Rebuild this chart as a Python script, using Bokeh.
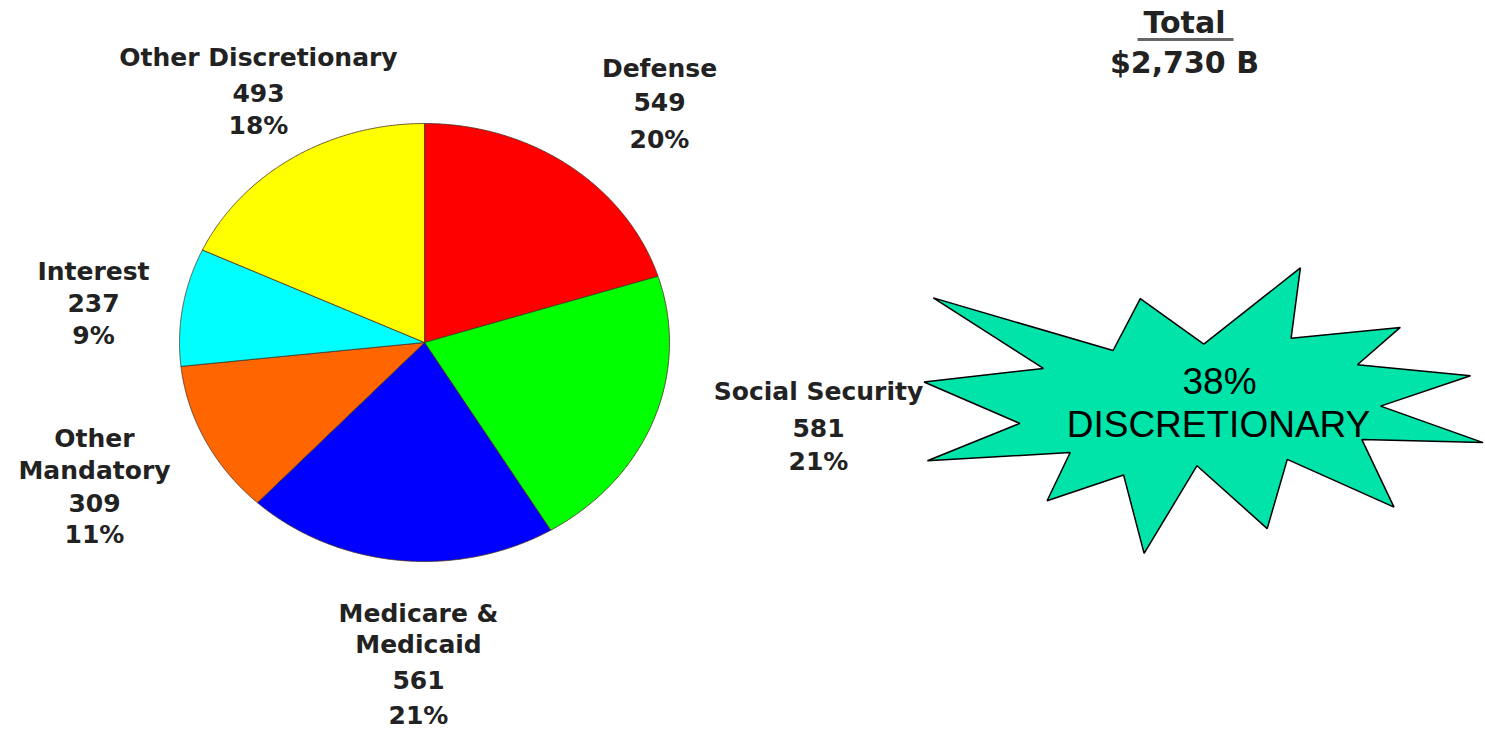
import numpy as np
from bokeh.plotting import figure
from bokeh.models import Range1d
from bokeh.core.properties import value
from bokeh.embed import file_html
from bokeh.resources import INLINE

# ---- data ----
categories = ["Defense", "Social Security", "Medicare & Medicaid",
              "Other Mandatory", "Interest", "Other Discretionary"]
amounts = [549, 581, 561, 309, 237, 493]
percents = ["20%", "21%", "21%", "11%", "9%", "18%"]
colors = ["#FF0000", "#00FF00", "#0000FF", "#FF6600", "#00FFFF", "#FFFF00"]
total_label = "$2,730 B"
burst_lines = ["38%", "DISCRETIONARY"]

# ---- layout ----
W, H = 1485, 731
p = figure(width=W, height=H, output_backend="svg", toolbar_location=None,
           x_range=Range1d(0, W), y_range=Range1d(H, 0),
           min_border=0, x_axis_location=None, y_axis_location=None,
           background_fill_color="white", border_fill_color="white")
p.outline_line_color = None
p.grid.visible = False

# pie (ellipse-shaped, clockwise from 12 o'clock)
cx, cy, rx, ry = 424, 342, 245, 219
tot = float(sum(amounts))
cum = np.concatenate([[0.0], np.cumsum(amounts)]) / tot * 2 * np.pi
xs, ys = [], []
for i in range(len(amounts)):
    th = np.linspace(cum[i], cum[i + 1], 200)
    xs.append(np.concatenate([[cx], cx + rx * np.sin(th)]).tolist())
    ys.append(np.concatenate([[cy], cy - ry * np.cos(th)]).tolist())
p.patches(xs=xs, ys=ys, fill_color=colors, line_color="#4a3020",
          line_alpha=0.8, line_width=1)

# slice labels (positions are layout only)
label_pos = {
    "Defense": (659, [68, 101, 139]),
    "Social Security": (818, [391, 427, 461]),
    "Medicare & Medicaid": (418, [613, 644, 679, 715]),
    "Other Mandatory": (94, [438, 470, 502, 534]),
    "Interest": (93, [271, 302, 335]),
    "Other Discretionary": (258, [57, 92, 125]),
}
name_lines = {"Medicare & Medicaid": ["Medicare &", "Medicaid"],
              "Other Mandatory": ["Other", "Mandatory"]}
tx, ty, tt = [], [], []
for name, amt, pct in zip(categories, amounts, percents):
    lines = name_lines.get(name, [name]) + [str(amt), pct]
    x0, yl = label_pos[name]
    for ln, yy in zip(lines, yl):
        tx.append(x0); ty.append(yy); tt.append(ln)
p.text(x=tx, y=ty, text=tt, text_font=value("DejaVu Sans"), text_font_style="bold",
       text_font_size="25px", text_color="#222222", text_align="center",
       text_baseline="middle")

# total
p.text(x=[1184], y=[22], text=["Total"], text_font=value("DejaVu Sans"),
       text_font_style="bold", text_font_size="30px", text_color="#222222",
       text_align="center", text_baseline="middle")
p.segment(x0=[1137], y0=[39], x1=[1233], y1=[39], line_color="#666666", line_width=3)
p.text(x=[1184], y=[62], text=[total_label], text_font=value("DejaVu Sans"),
       text_font_style="bold", text_font_size="30px", text_color="#222222",
       text_align="center", text_baseline="middle")

# starburst
bx = [932.8, 1112.6, 1139.8, 1203.3, 1299.9, 1290.6, 1399.8, 1356.9, 1470.0, 1380.1,
      1482.6, 1361.4, 1393.5, 1286.8, 1266.7, 1196.5, 1143.6, 1123.1, 1046.6, 1069.7,
      926.9, 1019.4, 923.5, 1042.9]
by = [297.4, 350.0, 298.1, 343.7, 267.3, 337.8, 326.9, 364.3, 375.2, 405.6,
      442.1, 439.1, 506.6, 458.9, 528.1, 465.2, 552.9, 474.5, 500.3, 452.0,
      460.3, 422.9, 381.5, 367.9]
p.patch(x=bx, y=by, fill_color="#00E3A9", line_color="black", line_width=1.5)
p.text(x=[1219, 1218], y=[381, 424], text=burst_lines,
       text_font=value("Liberation Sans"), text_font_size="37px",
       text_color="black", text_align="center", text_baseline="middle")

open("out.html", "w").write(file_html(p, INLINE))
